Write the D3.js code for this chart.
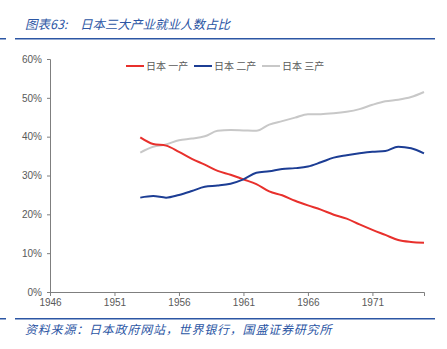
<!DOCTYPE html>
<html><head><meta charset="utf-8">
<script src="https://cdn.jsdelivr.net/npm/d3@7"></script>
<style>body{margin:0;background:#fff;} svg{display:block;}</style>
</head><body>
<svg id="c" width="447" height="349"></svg>
<script>
const years = d3.range(1953, 1976);
const seriesNames = ["日本 一产", "日本 二产", "日本 三产"];
const primary = [39.8,38.1,37.7,36.1,34.3,32.8,31.2,30.2,29.0,27.8,25.9,24.9,23.5,22.3,21.2,19.9,18.9,17.4,16.0,14.7,13.4,12.9,12.7];
const secondary = [24.3,24.7,24.3,25.0,26.0,27.1,27.4,27.9,29.0,30.7,31.1,31.7,31.9,32.3,33.4,34.6,35.2,35.7,36.1,36.3,37.4,37.0,35.7];
const tertiary = [35.9,37.4,38.0,39.1,39.5,40.1,41.5,41.7,41.6,41.5,43.1,44.0,44.9,45.8,45.8,46.0,46.4,47.1,48.2,49.1,49.5,50.2,51.5];
const xTicks = [1946,1951,1956,1961,1966,1971];
const yTicks = [0,10,20,30,40,50,60];
const colors = ["#e8302c","#1c3d94","#c8c8c8"];
const titleHead = "图表63:";
const titleBody = "日本三大产业就业人数占比";
const source = "资料来源：日本政府网站，世界银行，国盛证券研究所";

const svg = d3.select("#c");
const x = d3.scaleLinear().domain([1946,1975]).range([50,424]);
const y = d3.scaleLinear().domain([0,60]).range([292,59]);

// header
const t = svg.append("text").attr("x",25).attr("y",29).attr("fill","#2c56a4")
  .attr("font-family","Noto Sans CJK SC").attr("font-size",12.5).attr("font-style","italic");
t.append("tspan").text(titleHead);
t.append("tspan").attr("x",80).text(titleBody);
svg.append("rect").attr("x",0).attr("y",38).attr("width",6).attr("height",1.5).attr("fill","#2c56a4");
svg.append("rect").attr("x",15).attr("y",38).attr("width",420).attr("height",1.5).attr("fill","#2c56a4");
svg.append("rect").attr("x",0).attr("y",318).attr("width",6).attr("height",1.5).attr("fill","#2c56a4");
svg.append("rect").attr("x",15).attr("y",318).attr("width",420).attr("height",1.5).attr("fill","#2c56a4");
svg.append("text").attr("x",25).attr("y",334).attr("fill","#2c56a4")
  .attr("font-family","Noto Sans CJK SC").attr("font-size",12).attr("letter-spacing",0.8)
  .attr("font-style","italic").text(source);

// axes
const ya = svg.append("g").attr("transform","translate(50,0)")
  .call(d3.axisLeft(y).tickValues(yTicks).tickFormat(d=>d+"%").tickSize(3).tickPadding(5));
const xa = svg.append("g").attr("transform","translate(0,292)")
  .call(d3.axisBottom(x).tickValues(xTicks).tickFormat(d3.format("d")).tickSize(4).tickPadding(3));
[ya,xa].forEach(g=>{
  g.select(".domain").attr("stroke","#7f7f7f");
  g.selectAll(".tick line").attr("stroke","#7f7f7f");
  g.selectAll("text").attr("fill","#595959").attr("font-family","Liberation Sans, Arial").attr("font-size",10);
});

// lines
const data = [primary, secondary, tertiary];
const line = d3.line().x((d,i)=>x(years[i])).y(d=>y(d)).curve(d3.curveMonotoneX);
[2,0,1].forEach(k=>{
  svg.append("path").attr("d",line(data[k])).attr("fill","none")
    .attr("stroke",colors[k]).attr("stroke-width",2);
});

// legend
const lx = [126,194,262];
seriesNames.forEach((n,i)=>{
  svg.append("line").attr("x1",lx[i]).attr("x2",lx[i]+18).attr("y1",66).attr("y2",66)
    .attr("stroke",colors[i]).attr("stroke-width",2);
  svg.append("text").attr("x",lx[i]+20).attr("y",70).attr("fill","#595959")
    .attr("font-family","Noto Sans CJK SC").attr("font-size",10).text(n);
});
</script>
</body></html>
